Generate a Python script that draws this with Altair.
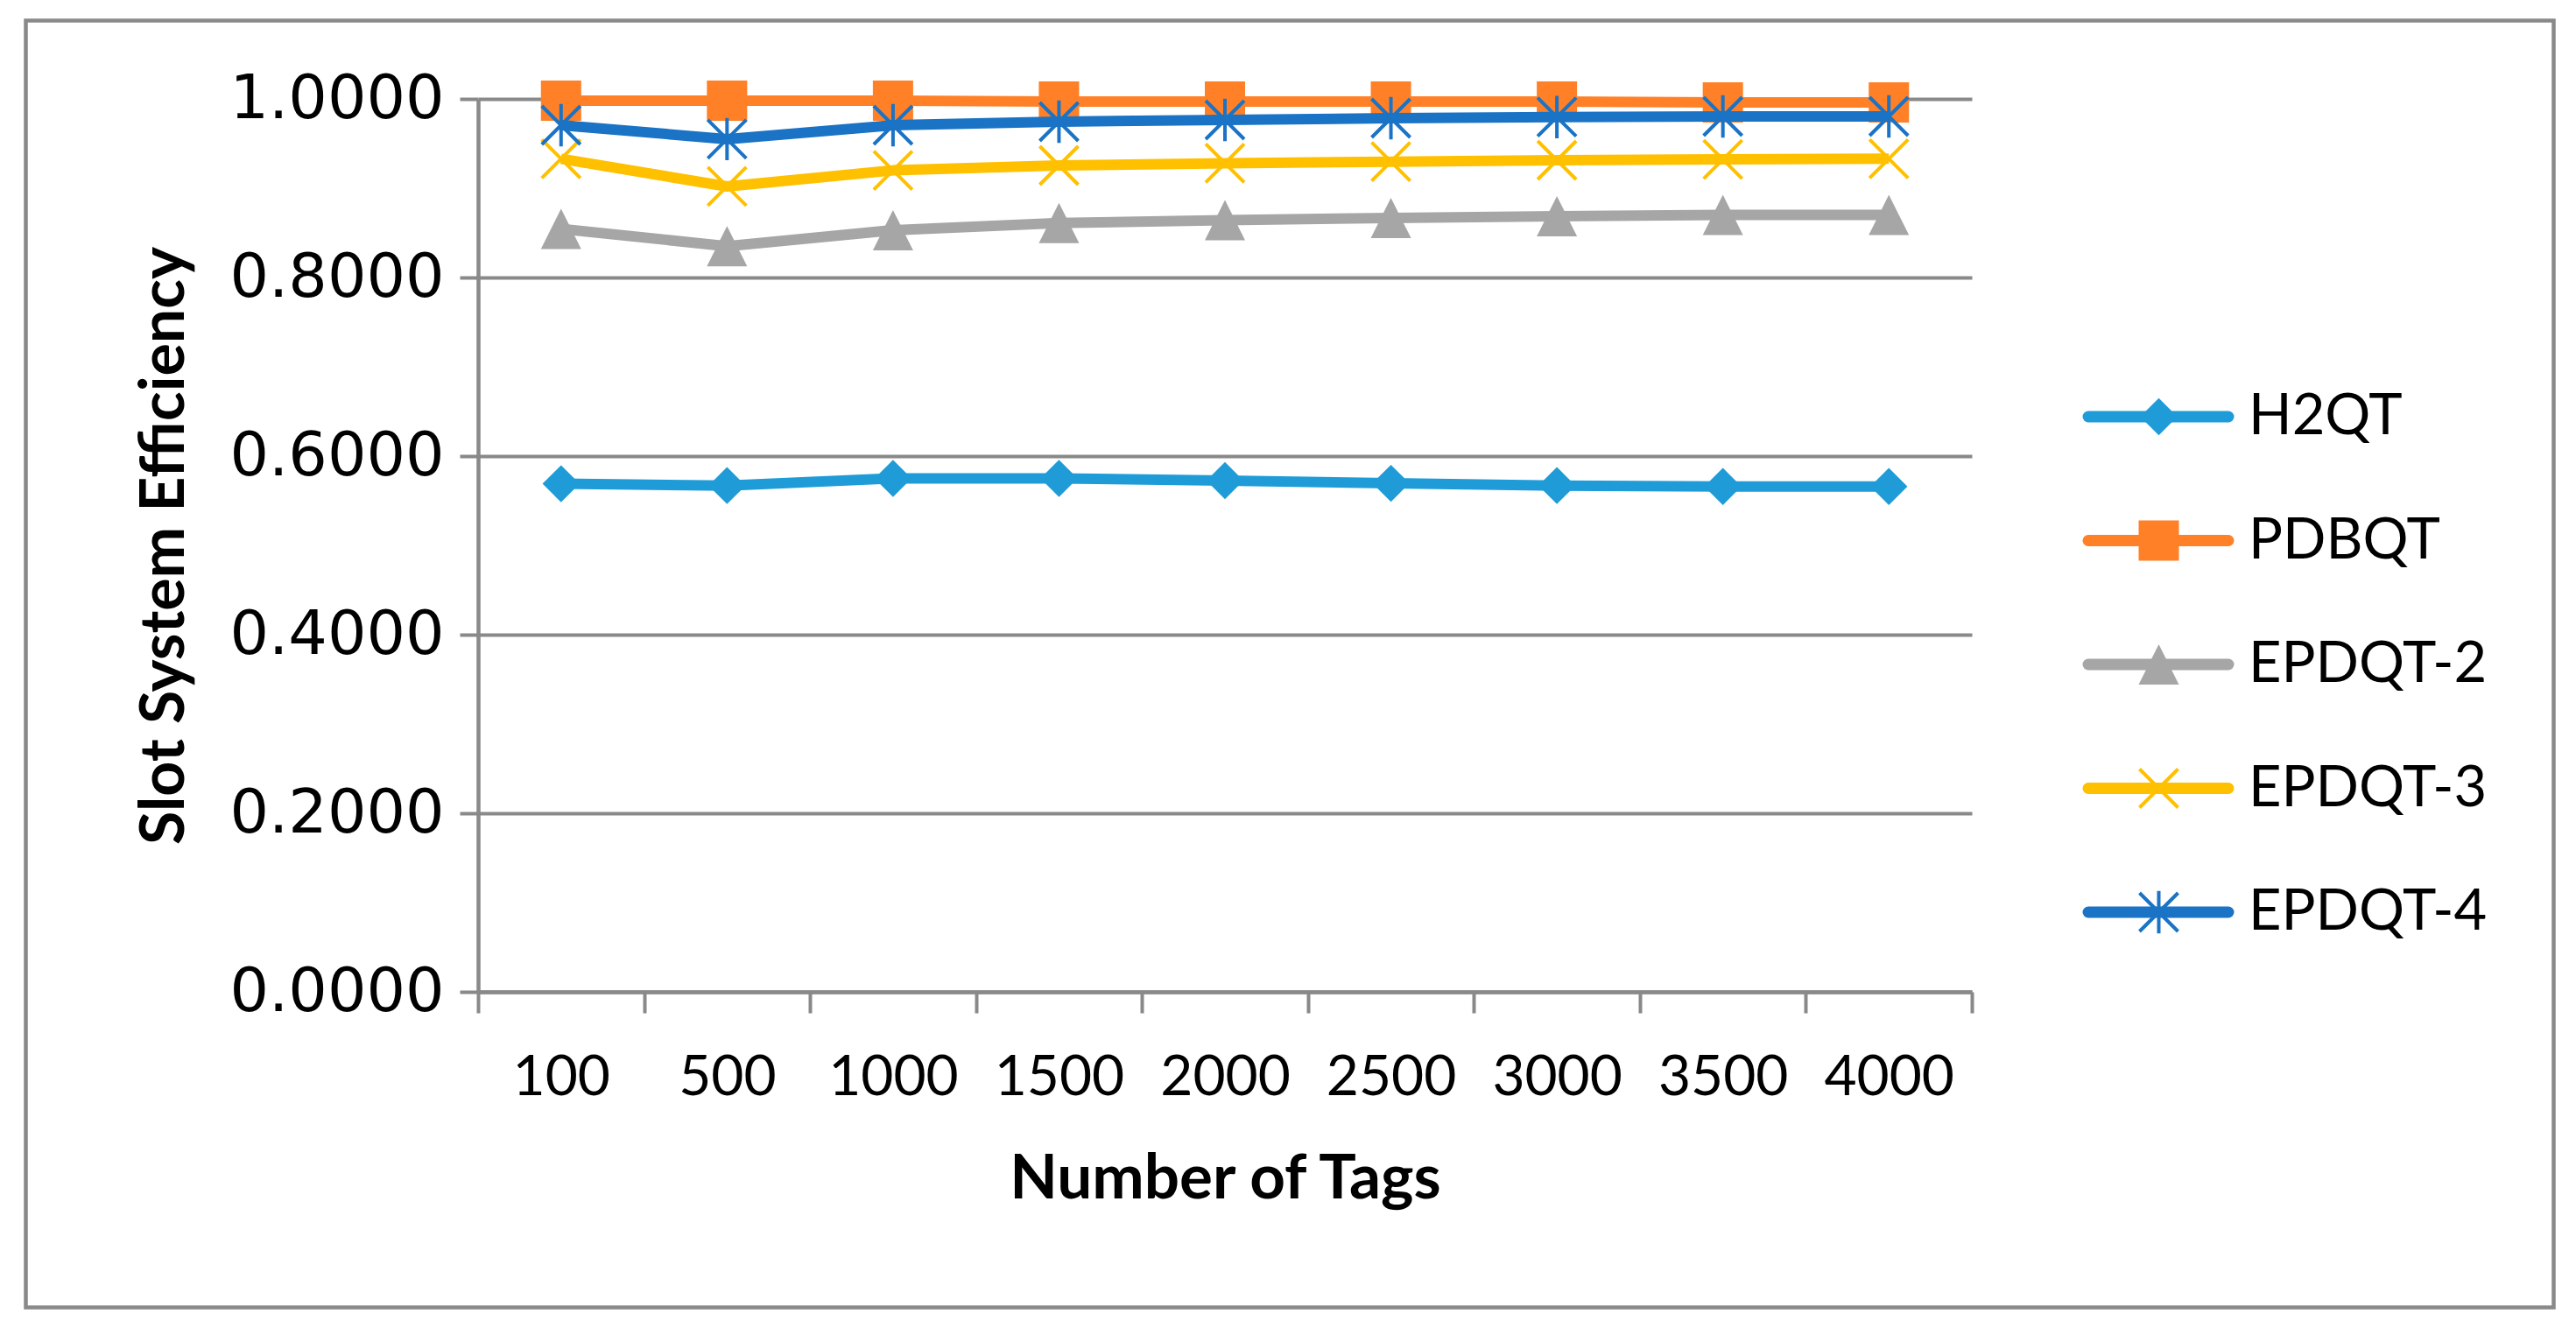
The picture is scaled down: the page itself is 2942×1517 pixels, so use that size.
import altair as alt
import pandas as pd

# ---------------- data ----------------
categories = ["100", "500", "1000", "1500", "2000", "2500", "3000", "3500", "4000"]
series_names = ["H2QT", "PDBQT", "EPDQT-2", "EPDQT-3", "EPDQT-4"]

h2qt = [0.569, 0.567, 0.575, 0.575, 0.5725, 0.5695, 0.567, 0.566, 0.566]
pdbqt = [0.998, 0.998, 0.998, 0.997, 0.997, 0.997, 0.997, 0.996, 0.996]
epdqt2 = [0.8545, 0.835, 0.853, 0.861, 0.8643, 0.8666, 0.8686, 0.870, 0.870]
epdqt3 = [0.933, 0.902, 0.920, 0.9255, 0.928, 0.9297, 0.9314, 0.9323, 0.933]
epdqt4 = [0.9706, 0.955, 0.9706, 0.9745, 0.9765, 0.9784, 0.9797, 0.9804, 0.9804]

y_ticks = [0.0, 0.2, 0.4, 0.6, 0.8, 1.0]

colors = ["#1F9CD8", "#FF8027", "#A6A6A6", "#FFC000", "#1B73C5"]

X_PATH = "M-1,-1L1,1M-1,1L1,-1"
STAR_PATH = "M-1,-1L1,1M-1,1L1,-1M0,-1.1L0,1.1"
TRI_PATH = "M0,-1L1,1L-1,1Z"
# (shape, size, filled)
markers = [
    ("diamond", 1800, True),
    ("square", 2116, True),
    (TRI_PATH, 2116, True),
    (X_PATH, 1936, False),
    (STAR_PATH, 1936, False),
]

rows = []
for name, vals in zip(series_names, [h2qt, pdbqt, epdqt2, epdqt3, epdqt4]):
    for c, v in zip(categories, vals):
        rows.append({"tags": c, "series": name, "eff": v})
df = pd.DataFrame(rows)
legend_df = pd.DataFrame({"series": series_names})

GRAY = "#898989"
W, H = 1706, 1020

x_enc = alt.X(
    "tags:O",
    sort=categories,
    scale=alt.Scale(type="band", paddingInner=0, paddingOuter=0),
    axis=alt.Axis(
        title="Number of Tags",
        labelAngle=0,
        labelFont="Lato",
        labelFontSize=64,
        labelColor="black",
        labelBaseline="middle",
        labelPadding=74,
        labelLimit=0,
        tickBand="extent",
        ticks=True,
        tickSize=24,
        tickWidth=4,
        tickColor=GRAY,
        domain=True,
        domainColor=GRAY,
        domainWidth=4.5,
        grid=False,
        titleFont="Lato",
        titleFontSize=71,
        titleFontWeight="bold",
        titleColor="black",
        titleX=853,
        titleY=214,
        titleAlign="center",
        titleBaseline="middle",
    ),
)

y_enc = alt.Y(
    "eff:Q",
    scale=alt.Scale(domain=[0, 1], nice=False),
    axis=alt.Axis(
        title="Slot System Efficiency",
        values=y_ticks,
        format=".4f",
        labelFont="DejaVu Sans",
        labelFontSize=70,
        labelColor="black",
        labelPadding=18,
        labelLimit=0,
        ticks=True,
        tickSize=21,
        tickWidth=4,
        tickColor=GRAY,
        domain=True,
        domainColor=GRAY,
        domainWidth=4.5,
        grid=True,
        gridColor=GRAY,
        gridWidth=4,
        titleFont="Lato",
        titleFontSize=70,
        titleFontWeight="bold",
        titleColor="black",
        titleAngle=270,
        titleX=-358,
        titleY=510,
        titleAlign="center",
        titleBaseline="middle",
    ),
)

data_layers = []
for name, color, (shape, size, filled) in zip(series_names, colors, markers):
    base = alt.Chart(df).transform_filter(alt.datum.series == name).encode(x=x_enc, y=y_enc)
    line = base.mark_line(color=color, strokeWidth=12, strokeJoin="round")
    if filled:
        pts = base.mark_point(shape=shape, size=size, filled=True, color=color, opacity=1, strokeWidth=0)
    else:
        pts = base.mark_point(shape=shape, size=size, filled=False, color=color, opacity=1, strokeWidth=4)
    data_layers += [line, pts]
data_group = alt.layer(*data_layers)

leg_y = alt.Y(
    "series:N",
    sort=series_names,
    scale=alt.Scale(type="point", domain=series_names, range=[363, 929], padding=0),
    axis=None,
)
legend_layers = []
for name, color, (shape, size, filled) in zip(series_names, colors, markers):
    lb = alt.Chart(legend_df).transform_filter(alt.datum.series == name)
    rule = lb.mark_rule(color=color, strokeWidth=13, strokeCap="round").encode(
        x=alt.value(1839), x2=alt.value(1999), y=leg_y
    )
    if filled:
        mk = lb.mark_point(shape=shape, size=size, filled=True, color=color, opacity=1, strokeWidth=0)
    else:
        mk = lb.mark_point(shape=shape, size=size, filled=False, color=color, opacity=1, strokeWidth=4)
    mk = mk.encode(x=alt.value(1919.5), y=leg_y)
    txt = lb.mark_text(align="left", baseline="middle", font="Lato", fontSize=65, color="black").encode(
        x=alt.value(2022), y=leg_y, text="series:N"
    )
    legend_layers += [rule, mk, txt]
legend_group = alt.layer(*legend_layers)

frame = alt.Chart(pd.DataFrame({"a": [0]})).mark_rect(
    filled=False, stroke=GRAY, strokeWidth=4.5
).encode(
    x=alt.value(-516.5), x2=alt.value(2370.5), y=alt.value(-89.5), y2=alt.value(1380.5)
)

chart = (
    alt.layer(frame, data_group, legend_group)
    .resolve_scale(y="independent")
    .properties(
        width=W,
        height=H,
        autosize=alt.AutoSizeParams(type="none"),
        padding={"left": 538, "top": 105, "right": 673, "bottom": 367},
        background="white",
    )
    .configure_view(strokeWidth=0)
)

chart.save("out.html", embed_options={"renderer": "svg", "actions": False})
